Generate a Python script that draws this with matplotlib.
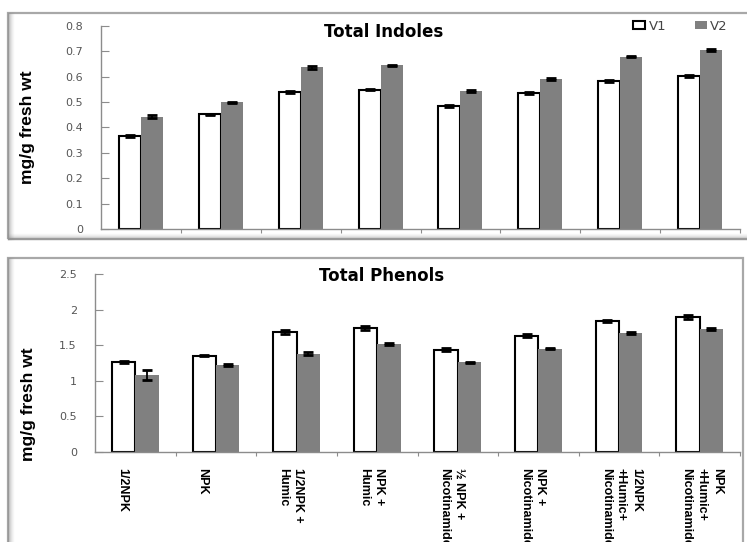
import matplotlib.pyplot as plt
from matplotlib.lines import Line2D
from matplotlib.patches import Patch, Rectangle
import matplotlib.transforms as mtransforms
import numpy as np

# Treatments (bottom panel labels)
treatments = [
    "1/2NPK",
    "NPK",
    "1/2NPK +\nHumic",
    "NPK +\nHumic",
    "\u00bd NPK +\nNicotinamide",
    "NPK +\nNicotinamide",
    "1/2NPK\n+Humic+\nNicotinamide",
    "NPK\n+Humic+\nNicotinamide",
]

# Total indoles (mg/g fresh wt)
indoles_v1 = [0.366, 0.452, 0.539, 0.548, 0.485, 0.535, 0.583, 0.604]
indoles_v2 = [0.443, 0.499, 0.637, 0.645, 0.543, 0.592, 0.679, 0.705]
indoles_v1_err = [0.003, 0.002, 0.003, 0.002, 0.003, 0.003, 0.003, 0.004]
indoles_v2_err = [0.005, 0.002, 0.006, 0.003, 0.003, 0.003, 0.003, 0.004]

# Total phenols (mg/g fresh wt)
phenols_v1 = [1.258, 1.353, 1.690, 1.746, 1.437, 1.633, 1.840, 1.896]
phenols_v2 = [1.086, 1.222, 1.381, 1.517, 1.259, 1.451, 1.671, 1.727]
phenols_v1_err = [0.015, 0.010, 0.030, 0.030, 0.020, 0.020, 0.020, 0.035]
phenols_v2_err = [0.070, 0.010, 0.020, 0.015, 0.010, 0.010, 0.015, 0.020]

W, H = 747, 542
AXIS_GRAY = "#8c8c8c"
BAR_GRAY = "#808080"


def fx(px):
    return px / W


def fy(py):
    return 1 - py / H


def draw_frame(fig, x0, y0, x1, y1):
    """Gray chart-area border with a soft shadow on the left and bottom."""
    fig.add_artist(Rectangle((fx(x0), fy(y1)), fx(x1) - fx(x0), fy(y0) - fy(y1),
                             transform=fig.transFigure, fill=False,
                             edgecolor="#a8a8a8", lw=1.6, zorder=0))
    for i, a in enumerate([0.55, 0.4, 0.28, 0.18, 0.1, 0.05]):
        fig.add_artist(Line2D([fx(x0 + i), fx(x0 + i)], [fy(y1), fy(y0)],
                              transform=fig.transFigure, color="#909090",
                              alpha=a, lw=1, zorder=0))
        fig.add_artist(Line2D([fx(x0), fx(x1)], [fy(y1 - i), fy(y1 - i)],
                              transform=fig.transFigure, color="#909090",
                              alpha=a, lw=1, zorder=0))


def style_axes(ax, ymax, ystep, n):
    for side in ("top", "right"):
        ax.spines[side].set_visible(False)
    for side in ("left", "bottom"):
        ax.spines[side].set_color(AXIS_GRAY)
        ax.spines[side].set_linewidth(1.0)
    ax.set_xlim(-0.5, n - 0.5)
    ax.set_ylim(0, ymax)
    ax.set_yticks(np.arange(0, ymax + ystep / 2, ystep))
    ax.set_xticks(np.arange(0.5, n, 1.0))
    ax.set_xticklabels([])
    ax.tick_params(axis="x", direction="out", length=3, color=AXIS_GRAY)
    ax.tick_params(axis="y", direction="in", length=6, color=AXIS_GRAY,
                   labelsize=8, labelcolor="#555555", pad=13)
    ax.yaxis.set_major_formatter(plt.FuncFormatter(lambda v, _: f"{v:g}"))
    ax.set_ylabel("mg/g fresh wt", fontsize=12.5, fontweight="bold",
                  family="Liberation Sans")


def draw_bars(ax, v1, v1_err, v2, v2_err, width):
    x = np.arange(len(v1))
    err_kw = dict(ecolor="black", elinewidth=1.3, capsize=3.5, capthick=2)
    ax.bar(x - width / 2, v1, width, color="white", edgecolor="black",
           linewidth=1.5, yerr=v1_err, error_kw=err_kw, zorder=2)
    ax.bar(x + width / 2, v2, width, color=BAR_GRAY, edgecolor="none",
           yerr=v2_err, error_kw=err_kw, zorder=2)


fig = plt.figure(figsize=(W / 100, H / 100), dpi=100)

draw_frame(fig, 8, 13, 770, 239)
draw_frame(fig, 8, 258, 743, 570)

n = len(treatments)

# Total indoles
ax1 = fig.add_axes([fx(101), fy(229), fx(740) - fx(101), fy(26) - fy(229)])
draw_bars(ax1, indoles_v1, indoles_v1_err, indoles_v2, indoles_v2_err, 0.275)
style_axes(ax1, 0.8, 0.1, n)
ax1.yaxis.set_label_coords(-0.103, 0.5)
fig.text(fx(384), fy(32), "Total Indoles", ha="center", va="center",
         fontsize=12, fontweight="bold")
handles = [Patch(facecolor="white", edgecolor="black", lw=1.5),
           Patch(facecolor=BAR_GRAY, edgecolor="none")]
fig.legend(handles, ["V1", "V2"], loc="center right",
           bbox_to_anchor=(fx(728), fy(26)), ncol=2, frameon=False,
           fontsize=9.5, handlelength=0.9, handleheight=0.6,
           handletextpad=0.25, columnspacing=2.2, labelcolor="#444444",
           borderpad=0, borderaxespad=0)

# Total phenols
ax2 = fig.add_axes([fx(95), fy(452), fx(740) - fx(95), fy(274) - fy(452)])
draw_bars(ax2, phenols_v1, phenols_v1_err, phenols_v2, phenols_v2_err, 0.29)
style_axes(ax2, 2.5, 0.5, n)
ax2.yaxis.set_label_coords(-0.0915, 0.266)
fig.text(fx(382), fy(276), "Total Phenols", ha="center", va="center",
         fontsize=12, fontweight="bold")

# Rotated category labels below the bottom axis
trans = mtransforms.blended_transform_factory(ax2.transData, ax2.transAxes)
for i, label in enumerate(treatments):
    ax2.text(i - 0.24, -0.088, label, transform=trans, rotation=-90,
             ha="left", va="top", multialignment="left", linespacing=1.35,
             fontsize=9, fontweight="bold", family="Liberation Sans",
             clip_on=False)

fig.savefig("out.png", dpi=100)
